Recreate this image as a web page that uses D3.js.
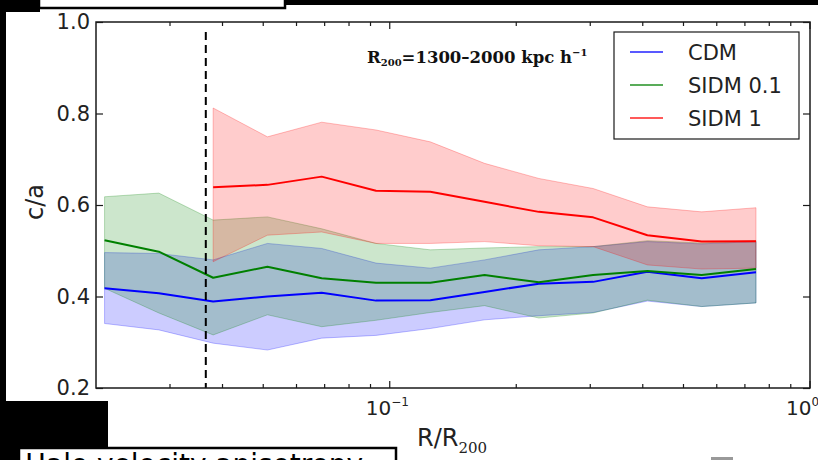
<!DOCTYPE html>
<html><head><meta charset="utf-8">
<script src="https://cdn.jsdelivr.net/npm/d3@7"></script>
<style>body{margin:0;background:#fff} svg{display:block}</style>
</head><body>
<svg id="chart" width="818" height="460"></svg>
<script>
// ---------- data ----------
const radii      = [0.02096, 0.02822, 0.03800, 0.05116, 0.06888, 0.09274, 0.12487, 0.16811, 0.22634, 0.30475, 0.41030, 0.55242, 0.74383];
const cdmMean    = [0.418, 0.407, 0.389, 0.400, 0.408, 0.391, 0.392, 0.410, 0.428, 0.432, 0.454, 0.440, 0.453];
const cdmUpper   = [0.496, 0.494, 0.480, 0.516, 0.505, 0.473, 0.462, 0.480, 0.502, 0.509, 0.520, 0.515, 0.520];
const cdmLower   = [0.341, 0.327, 0.298, 0.283, 0.309, 0.315, 0.330, 0.349, 0.358, 0.365, 0.390, 0.378, 0.386];
const sidm01Mean = [0.523, 0.498, 0.441, 0.465, 0.440, 0.430, 0.430, 0.447, 0.431, 0.447, 0.456, 0.447, 0.460];
const sidm01Upper= [0.618, 0.626, 0.567, 0.574, 0.548, 0.516, 0.502, 0.506, 0.509, 0.509, 0.522, 0.517, 0.522];
const sidm01Lower= [0.418, 0.364, 0.316, 0.360, 0.334, 0.348, 0.365, 0.380, 0.353, 0.364, 0.392, 0.378, 0.386];
const sidm1Mean  = [null, null, 0.639, 0.644, 0.662, 0.631, 0.629, 0.607, 0.585, 0.573, 0.534, 0.520, 0.521];
const sidm1Upper = [null, null, 0.812, 0.749, 0.781, 0.764, 0.738, 0.691, 0.658, 0.636, 0.596, 0.585, 0.594];
const sidm1Lower = [null, null, 0.476, 0.534, 0.541, 0.516, 0.516, 0.520, 0.511, 0.509, 0.469, 0.460, 0.462];
const seriesNames  = ["CDM", "SIDM 0.1", "SIDM 1"];
const seriesColors = ["#0000ff", "#008000", "#ff0000"];
const yTicks       = [0.2, 0.4, 0.6, 0.8, 1.0];
const xMajorTicks  = [0.1, 1];
const xMajorExp    = ["\u22121", "0"];
const xMinorTicks  = [0.03, 0.04, 0.05, 0.06, 0.07, 0.08, 0.09, 0.2, 0.3, 0.4, 0.5, 0.6, 0.7, 0.8, 0.9];
const splitRadius  = 0.0365;
const xDomain = [0.02, 1];
const yDomain = [0.2, 1.0];

// ---------- layout ----------
const svg = d3.select("#chart");
const L = 96, R = 810, T = 22, B = 388;
const x = d3.scaleLog().domain(xDomain).range([L, R]);
const y = d3.scaleLinear().domain(yDomain).range([B, T]);
const ink = "#1a1a1a";

svg.append("defs").append("clipPath").attr("id", "clip")
  .append("rect").attr("x", L).attr("y", T).attr("width", R - L).attr("height", B - T);

const series = [
  {name: seriesNames[0], color: seriesColors[0], mean: cdmMean,    lo: cdmLower,    hi: cdmUpper},
  {name: seriesNames[1], color: seriesColors[1], mean: sidm01Mean, lo: sidm01Lower, hi: sidm01Upper},
  {name: seriesNames[2], color: seriesColors[2], mean: sidm1Mean,  lo: sidm1Lower,  hi: sidm1Upper}
];

const plot = svg.append("g").attr("clip-path", "url(#clip)");
series.forEach(s => {
  const pts = radii.map((r, i) => ({r, m: s.mean[i], lo: s.lo[i], hi: s.hi[i]}));
  const area = d3.area().defined(d => d.m != null)
    .x(d => x(d.r)).y0(d => y(d.lo)).y1(d => y(d.hi));
  plot.append("path").datum(pts).attr("d", area)
    .attr("fill", s.color).attr("fill-opacity", 0.2)
    .attr("stroke", s.color).attr("stroke-opacity", 0.25).attr("stroke-width", 1);
});
series.forEach(s => {
  const pts = radii.map((r, i) => ({r, m: s.mean[i]}));
  const line = d3.line().defined(d => d.m != null).x(d => x(d.r)).y(d => y(d.m));
  plot.append("path").datum(pts).attr("d", line)
    .attr("fill", "none").attr("stroke", s.color).attr("stroke-width", 2)
    .attr("stroke-linejoin", "round");
});

// dashed vertical marker
svg.append("line")
  .attr("x1", x(splitRadius)).attr("x2", x(splitRadius))
  .attr("y1", y(0.978)).attr("y2", y(0.2))
  .attr("stroke", "#000").attr("stroke-width", 2).attr("stroke-dasharray", "8,5");

// ---------- axes ----------
const font = "'DejaVu Sans', sans-serif";
const yAxis = svg.append("g").attr("transform", `translate(${L},0)`)
  .call(d3.axisLeft(y).tickValues(yTicks).tickSize(-7).tickPadding(6).tickFormat(d3.format(".1f")));
yAxis.select(".domain").remove();
yAxis.selectAll("line").attr("stroke", ink).attr("stroke-width", 1.2);
yAxis.selectAll("text").attr("font-family", font).attr("font-size", 21).attr("fill", "#222");

const yAxisR = svg.append("g").attr("transform", `translate(${R},0)`)
  .call(d3.axisRight(y).tickValues(yTicks).tickSize(-7).tickFormat(""));
yAxisR.select(".domain").remove();
yAxisR.selectAll("line").attr("stroke", ink).attr("stroke-width", 1.2);

[[B, -1], [T, 1]].forEach(([yy, dir]) => {
  const g = svg.append("g");
  g.selectAll("line.maj").data(xMajorTicks).join("line")
    .attr("x1", d => x(d)).attr("x2", d => x(d)).attr("y1", yy).attr("y2", yy + dir * 7)
    .attr("stroke", ink).attr("stroke-width", 1.2);
  g.selectAll("line.min").data(xMinorTicks).join("line")
    .attr("x1", d => x(d)).attr("x2", d => x(d)).attr("y1", yy).attr("y2", yy + dir * 4)
    .attr("stroke", ink).attr("stroke-width", 1.2);
});

// x tick labels 10^n
xMajorTicks.forEach((v, i) => {
  const t = svg.append("text").attr("x", x(v) - 24).attr("y", 415)
    .attr("font-family", font).attr("font-size", 20).attr("fill", "#222");
  t.append("tspan").text("10");
  t.append("tspan").attr("font-size", 12).attr("dy", -9).text(xMajorExp[i]);
});

// frame
svg.append("rect").attr("x", L).attr("y", T).attr("width", R - L).attr("height", B - T)
  .attr("fill", "none").attr("stroke", ink).attr("stroke-width", 1.5);

// axis labels
svg.append("text").attr("transform", "translate(43,202) rotate(-90)")
  .attr("text-anchor", "middle").attr("font-family", font).attr("font-size", 24)
  .attr("fill", "#222").text("c/a");
const xl = svg.append("text").attr("x", 417).attr("y", 446)
  .attr("font-family", font).attr("font-size", 24).attr("fill", "#222");
xl.append("tspan").text("R/R");
xl.append("tspan").attr("font-family", "'DejaVu Serif', serif").attr("font-size", 15).attr("dy", 7).text("200");

// annotation
const ann = svg.append("text").attr("x", 367).attr("y", 63)
  .attr("font-family", "'DejaVu Serif', serif").attr("font-weight", "bold")
  .attr("font-size", 16.5).attr("fill", "#111");
ann.append("tspan").text("R");
ann.append("tspan").attr("font-size", 10).attr("dy", 3).text("200");
ann.append("tspan").attr("dy", -3).text("=1300\u20132000 kpc h");
ann.append("tspan").attr("font-size", 10).attr("dy", -7).text("\u22121");

// legend
const lg = svg.append("g");
lg.append("rect").attr("x", 614).attr("y", 32).attr("width", 185).attr("height", 107)
  .attr("fill", "#fff").attr("stroke", ink).attr("stroke-width", 1.2);
series.forEach((s, i) => {
  const cy = 52 + i * 33;
  lg.append("line").attr("x1", 630).attr("x2", 663).attr("y1", cy).attr("y2", cy)
    .attr("stroke", s.color).attr("stroke-width", 2).attr("stroke-opacity", 0.65);
  lg.append("text").attr("x", 688).attr("y", cy).attr("dy", "0.36em")
    .attr("font-family", font).attr("font-size", 21).attr("fill", "#222").text(s.name);
});

// ---------- surrounding page decorations (screenshot frame) ----------
const deco = svg.append("g");
deco.append("rect").attr("x", 0).attr("y", 0).attr("width", 818).attr("height", 5).attr("fill", "#000");
deco.append("rect").attr("x", 0).attr("y", 0).attr("width", 40).attr("height", 12).attr("fill", "#000");
deco.append("rect").attr("x", 0).attr("y", 0).attr("width", 6).attr("height", 460).attr("fill", "#000");
deco.append("rect").attr("x", 39).attr("y", -4).attr("width", 246).attr("height", 12)
  .attr("fill", "#fff").attr("stroke", "#000").attr("stroke-width", 2.5);
deco.append("rect").attr("x", 0).attr("y", 401).attr("width", 108).attr("height", 47).attr("fill", "#000");
deco.append("rect").attr("x", 0).attr("y", 446).attr("width", 19).attr("height", 14).attr("fill", "#000");
deco.append("rect").attr("x", 19).attr("y", 448).attr("width", 377).attr("height", 20)
  .attr("fill", "#fff").attr("stroke", "#000").attr("stroke-width", 2.5);
deco.append("text").attr("x", 25).attr("y", 474).attr("font-family", font).attr("font-size", 28)
  .attr("fill", "#000").text("Halo velocity anisotropy");
deco.append("rect").attr("x", 711).attr("y", 457).attr("width", 22).attr("height", 3).attr("fill", "#999");
</script>
</body></html>
